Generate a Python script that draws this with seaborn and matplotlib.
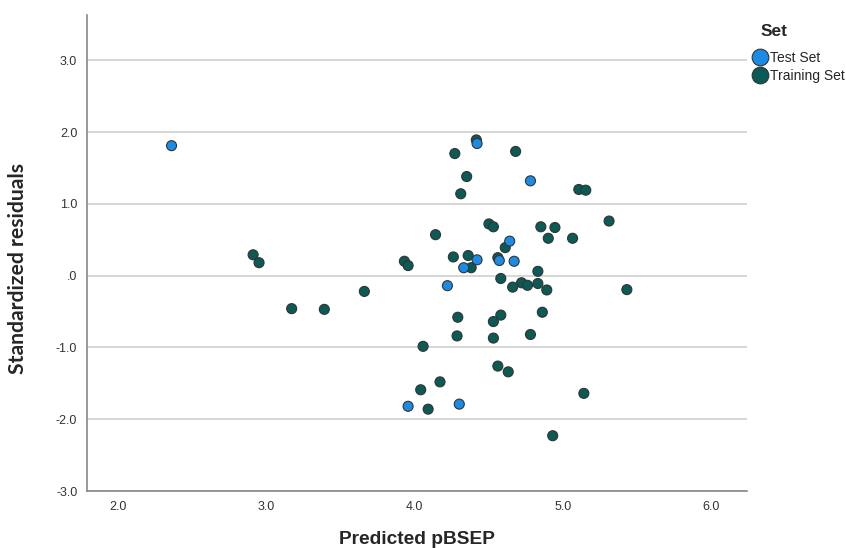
import matplotlib
matplotlib.use("Agg")
import matplotlib.pyplot as plt
import seaborn as sns
import pandas as pd
from matplotlib.lines import Line2D

# ---- data ----
test_x = [2.36, 4.42, 4.78, 4.42, 4.33, 4.64, 4.67, 4.57, 4.22, 3.955, 4.30]
test_y = [1.81, 1.84, 1.32, 0.22, 0.11, 0.48, 0.20, 0.21, -0.14, -1.82, -1.79]

train_x = [4.415, 4.27, 4.68, 4.35, 4.31, 5.106, 5.153, 4.50, 4.53, 4.14,
           4.85, 4.945, 4.90, 5.064, 5.31, 4.61, 3.93, 3.955, 4.26, 4.36,
           4.38, 4.56, 4.83, 5.43, 4.58, 4.66, 4.72, 4.76, 4.83, 4.89,
           4.29, 4.58, 4.53, 4.86, 4.285, 4.53, 4.78, 4.056, 4.56, 4.63,
           4.17, 4.04, 5.14, 4.09, 4.93, 2.91, 2.95, 3.17, 3.39, 3.66]
train_y = [1.89, 1.70, 1.73, 1.38, 1.14, 1.20, 1.19, 0.72, 0.68, 0.57,
           0.68, 0.67, 0.52, 0.52, 0.76, 0.39, 0.20, 0.14, 0.26, 0.28,
           0.11, 0.25, 0.06, -0.195, -0.04, -0.16, -0.10, -0.135, -0.11, -0.20,
           -0.58, -0.55, -0.64, -0.51, -0.84, -0.87, -0.82, -0.985, -1.26, -1.34,
           -1.48, -1.59, -1.64, -1.86, -2.23, 0.29, 0.18, -0.46, -0.47, -0.22]

set_names = ["Test Set", "Training Set"]
x_ticks = [2.0, 3.0, 4.0, 5.0, 6.0]
x_tick_labels = ["2.0", "3.0", "4.0", "5.0", "6.0"]
y_ticks = [3.0, 2.0, 1.0, 0.0, -1.0, -2.0, -3.0]
y_tick_labels = ["3.0", "2.0", "1.0", ".0", "-1.0", "-2.0", "-3.0"]

df = pd.DataFrame({
    "pred": train_x + test_x,
    "resid": train_y + test_y,
    "Set": [set_names[1]] * len(train_x) + [set_names[0]] * len(test_x),
})

colors = {"Test Set": "#1a8ce6", "Training Set": "#0a5a55"}

sns.set_style("white")
plt.rcParams["font.family"] = ["Liberation Sans", "DejaVu Sans"]

fig = plt.figure(figsize=(8.46, 5.48), dpi=100)
ax = fig.add_axes([87 / 846, 1 - 491 / 548, (747 - 87) / 846, (491 - 15) / 548])

sns.scatterplot(data=df, x="pred", y="resid", hue="Set", palette=colors,
                s=52, edgecolor="#333333", linewidth=0.8, ax=ax, legend=False,
                zorder=3)

ax.set_xlim(1.79, 6.24)
ax.set_ylim(-3.0, 3.63)
ax.set_xticks(x_ticks)
ax.set_xticklabels(x_tick_labels)
ax.set_yticks(y_ticks)
ax.set_yticklabels(y_tick_labels)
ax.tick_params(axis="both", length=0, labelsize=9, labelcolor="#333333")
ax.tick_params(axis="x", pad=7)
ax.tick_params(axis="y", pad=7)
ax.yaxis.grid(True, color="#d0d0d0", linewidth=1.2, zorder=0)
ax.xaxis.grid(False)
ax.set_axisbelow(True)
for s in ["top", "right"]:
    ax.spines[s].set_visible(False)
for s in ["left", "bottom"]:
    ax.spines[s].set_color("#888888")
    ax.spines[s].set_linewidth(1.2)

ax.set_xlabel("Predicted pBSEP", fontsize=13.8, fontweight="bold",
              family=["Liberation Sans", "DejaVu Sans"], labelpad=13)
ax.set_ylabel("Standardized residuals", fontsize=15.2, fontweight="bold",
              family=["Lato", "DejaVu Sans"])
ax.yaxis.set_label_coords((28 - 87) / 660, (491 - 268) / 476)

handles = [Line2D([0], [0], marker="o", linestyle="", markersize=12,
                  markerfacecolor=colors[n], markeredgecolor="#333333",
                  markeredgewidth=0.8) for n in set_names]
leg = fig.legend(handles, set_names, title="Set", loc="upper left",
                 bbox_to_anchor=(739 / 846, 1 - 14 / 548), frameon=False,
                 fontsize=10, handletextpad=-0.1, labelspacing=0.25,
                 handlelength=1.6, borderpad=0.2)
leg.get_title().set_fontweight("bold")
leg.get_title().set_fontsize(12.5)
leg._legend_box.align = "left"
leg._legend_box.sep = 9
leg.get_title().set_position((12, 0))

fig.savefig("out.png", dpi=100)
